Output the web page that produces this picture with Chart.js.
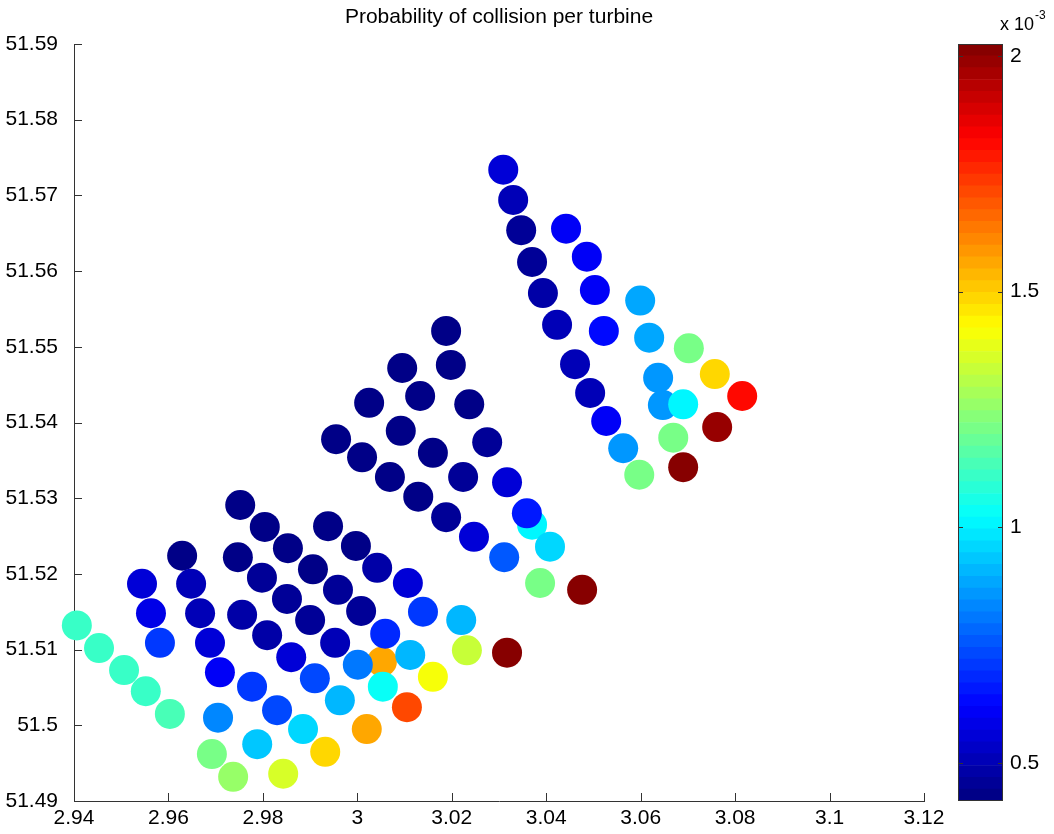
<!DOCTYPE html>
<html><head><meta charset="utf-8">
<script src="https://cdn.jsdelivr.net/npm/chart.js@4.4.0/dist/chart.umd.min.js"></script>
<style>
html,body{margin:0;padding:0;background:#fff;}
#wrap{position:relative;width:1054px;height:834px;overflow:hidden;background:#fff;}
#main{position:absolute;left:0;top:0;}
#cbar{position:absolute;left:940px;top:0;}
</style></head><body>
<div id="wrap"><canvas id="main" width="998" height="834"></canvas><canvas id="cbar" width="114" height="834"></canvas></div>
<script>
const TITLE = 'Probability of collision per turbine';

// turbine longitude (x), latitude (y), probability of collision (x 10^-3)
const lon = [2.9406,2.9453,2.9506,2.9552,2.9603,2.9544,2.9563,2.9582,2.9629,2.9648,
 2.9667,2.9688,2.9709,2.9705,2.9692,2.9737,2.9752,2.9747,2.9756,2.9777,
 2.9788,2.9843,2.9804,2.9798,2.9809,2.9830,2.9853,2.9851,2.9860,2.9885,
 2.9906,2.9900,2.9910,2.9932,2.9938,2.9959,2.9953,2.9963,2.9997,3.0008,
 3.0052,3.0001,3.0020,3.0042,3.0059,3.0054,3.0107,3.0112,3.0105,3.0139,
 3.0160,3.0220,3.0232,3.0317,3.0188,3.0198,3.0095,3.0133,3.0237,3.0025,
 3.0092,3.0275,2.9955,3.0160,3.0010,3.0224,3.0317,3.0069,3.0129,3.0188,
 3.0370,3.0359,3.0247,3.0408,3.0311,3.0387,3.0476,3.0309,3.0330,3.0347,
 3.0370,3.0393,3.0423,3.0461,3.0493,3.0527,3.0563,3.0597,3.0442,3.0486,
 3.0503,3.0522,3.0599,3.0618,3.0637,3.0647,3.0690,3.0669,3.0690,3.0702,
 3.0757,3.0815,3.0762];
const lat = [51.5132,51.5102,51.5073,51.5045,51.5015,51.5187,51.5148,51.5109,51.5224,51.5187,
 51.5148,51.5109,51.5070,51.5010,51.4962,51.4932,51.5291,51.5222,51.5146,51.5051,
 51.4975,51.4936,51.5262,51.5195,51.5119,51.5020,51.5234,51.5167,51.5090,51.4995,
 51.5206,51.5139,51.5062,51.4965,51.5263,51.5179,51.5109,51.5033,51.5237,51.5151,
 51.5084,51.5080,51.4995,51.5208,51.5121,51.5051,51.5188,51.5093,51.5024,51.5150,
 51.5064,51.5139,51.5099,51.5096,51.5521,51.5476,51.5472,51.5435,51.5424,51.5426,
 51.5389,51.5374,51.5378,51.5360,51.5354,51.5328,51.5321,51.5328,51.5302,51.5275,
 51.5265,51.5280,51.5249,51.5236,51.5222,51.5188,51.5179,51.5734,51.5694,51.5654,
 51.5612,51.5571,51.5529,51.5477,51.5439,51.5402,51.5366,51.5331,51.5656,51.5619,
 51.5575,51.5521,51.5561,51.5512,51.5459,51.5423,51.5424,51.5380,51.5341,51.5498,
 51.5464,51.5435,51.5394];
const prob = [1.12,1.12,1.12,1.12,1.13,0.56,0.58,0.72,0.44,0.50,
 0.52,0.55,0.62,0.84,1.21,1.27,0.43,0.44,0.49,0.70,
 0.93,1.37,0.43,0.45,0.48,0.74,0.44,0.45,0.55,0.97,
 0.44,0.46,0.74,1.49,0.43,0.45,0.50,0.90,0.44,0.47,
 1.55,0.80,1.57,0.49,0.68,1.04,0.56,0.92,1.70,0.70,
 1.42,0.90,1.34,2.00,0.43,0.43,0.43,0.43,0.44,0.43,
 0.43,0.47,0.43,0.44,0.43,0.45,0.55,0.43,0.44,0.46,
 1.00,0.65,0.55,0.95,0.76,1.22,2.00,0.55,0.50,0.47,
 0.47,0.48,0.50,0.50,0.52,0.60,0.86,1.20,0.60,0.61,
 0.62,0.64,0.88,0.88,0.86,0.86,1.02,1.20,2.00,1.20,
 1.48,1.82,1.98];

const xTicks = [2.94,2.96,2.98,3.00,3.02,3.04,3.06,3.08,3.10,3.12];
const xTickLabels = ['2.94','2.96','2.98','3','3.02','3.04','3.06','3.08','3.1','3.12'];
const yTicks = [51.49,51.50,51.51,51.52,51.53,51.54,51.55,51.56,51.57,51.58,51.59];
const yTickLabels = ['51.49','51.5','51.51','51.52','51.53','51.54','51.55','51.56','51.57','51.58','51.59'];
const cbTicks = [0.5,1,1.5,2];
const cbTickLabels = ['0.5','1','1.5','2'];
const cbMin = 0.42, cbMax = 2.025;
const cbMultiplier = 'x 10', cbExponent = '-3';

const FONT = "'Liberation Sans', Arial, Helvetica, sans-serif";
const NLEV = 64;

function jetIndexColor(i){
  const t = (i + 0.5) / NLEV;
  const c = v => Math.round(255 * Math.min(1, Math.max(0, v)));
  return 'rgb(' + c(1.5 - Math.abs(4*t - 3)) + ',' + c(1.5 - Math.abs(4*t - 2)) + ',' + c(1.5 - Math.abs(4*t - 1)) + ')';
}
function jet(v){
  let t = (v - cbMin) / (cbMax - cbMin);
  let i = Math.floor(t * NLEV);
  i = Math.max(0, Math.min(NLEV - 1, i));
  return jetIndexColor(i);
}

const inwardTicks = {
  id: 'inwardTicks',
  afterDraw(chart){
    const {ctx, chartArea: a, scales: {x, y}} = chart;
    ctx.save();
    ctx.strokeStyle = '#333';
    ctx.lineWidth = 1;
    ctx.beginPath();
    xTicks.forEach(v => { const p = Math.round(x.getPixelForValue(v)) + 0.5; ctx.moveTo(p, a.bottom); ctx.lineTo(p, a.bottom - 8); });
    yTicks.forEach(v => { const p = Math.round(y.getPixelForValue(v)) + 0.5; ctx.moveTo(a.left, p); ctx.lineTo(a.left + 8, p); });
    ctx.stroke();
    ctx.restore();
  }
};

const points = lon.map((x, i) => ({x: x, y: lat[i]}));
const colors = prob.map(jet);

new Chart(document.getElementById('main'), {
  type: 'scatter',
  data: { datasets: [{ data: points, pointRadius: 15, pointHoverRadius: 15, pointBackgroundColor: colors, pointBorderColor: colors, pointBorderWidth: 0, clip: false }] },
  options: {
    responsive: false, animation: false, devicePixelRatio: 1, events: [],
    layout: { padding: 0 },
    plugins: {
      legend: { display: false }, tooltip: { enabled: false },
      title: { display: true, text: TITLE, color: '#000', font: { family: FONT, size: 21, weight: 'normal', lineHeight: 1.2 }, padding: { top: 5, bottom: 13.8 } }
    },
    scales: {
      x: {
        type: 'linear', min: 2.94, max: 3.12,
        afterBuildTicks: s => { s.ticks = xTicks.map(v => ({value: v})); },
        afterFit: s => { s.height = 33; },
        grid: { drawOnChartArea: false, drawTicks: false },
        border: { display: true, color: '#333', width: 1 },
        ticks: { padding: 5, color: '#000', font: { family: FONT, size: 21 }, maxRotation: 0, autoSkip: false, callback: (v, i) => xTickLabels[i] }
      },
      y: {
        type: 'linear', position: 'left', min: 51.49, max: 51.59,
        afterBuildTicks: s => { s.ticks = yTicks.map(v => ({value: v})); },
        afterFit: s => { s.width = 74; },
        grid: { drawOnChartArea: false, drawTicks: false },
        border: { display: true, color: '#333', width: 1 },
        ticks: { padding: 16, color: '#000', font: { family: FONT, size: 21 }, autoSkip: false, callback: (v, i) => yTickLabels[i] }
      },
      ySpacer: {
        type: 'linear', position: 'right', min: 51.49, max: 51.59,
        afterFit: s => { s.width = 74; },
        grid: { display: false, drawTicks: false },
        border: { display: false },
        ticks: { display: false }
      }
    }
  },
  plugins: [inwardTicks]
});

// colorbar
const cbDatasets = [];
for (let i = 0; i < NLEV; i++) {
  const lo = cbMin + (cbMax - cbMin) * i / NLEV;
  const hi = cbMin + (cbMax - cbMin) * (i + 1) / NLEV;
  const col = jetIndexColor(i);
  cbDatasets.push({ data: [[lo, hi]], backgroundColor: col, borderColor: col, borderWidth: 0 });
}

const cbDecor = {
  id: 'cbDecor',
  afterDraw(chart){
    const {ctx, chartArea: a, scales: {y}} = chart;
    ctx.save();
    ctx.strokeStyle = '#333';
    ctx.lineWidth = 1;
    ctx.strokeRect(Math.round(a.left) + 0.5, Math.round(a.top) + 0.5, Math.round(a.right - a.left) - 1, Math.round(a.bottom - a.top) - 1);
    ctx.beginPath();
    cbTicks.forEach(v => {
      const p = Math.round(y.getPixelForValue(v)) + 0.5;
      ctx.moveTo(a.left, p); ctx.lineTo(a.left + 5, p);
      ctx.moveTo(a.right, p); ctx.lineTo(a.right - 5, p);
    });
    ctx.stroke();
    ctx.fillStyle = '#000';
    ctx.textBaseline = 'alphabetic';
    ctx.textAlign = 'left';
    ctx.font = '18px ' + FONT;
    ctx.fillText(cbMultiplier, 60, 30);
    const w = ctx.measureText(cbMultiplier).width;
    ctx.font = '12px ' + FONT;
    ctx.fillText(cbExponent, 60 + w + 1, 19);
    ctx.restore();
  }
};

new Chart(document.getElementById('cbar'), {
  type: 'bar',
  data: { labels: [''], datasets: cbDatasets },
  options: {
    responsive: false, animation: false, devicePixelRatio: 1, events: [],
    layout: { padding: { left: 18, right: 0, top: 44, bottom: 33 } },
    datasets: { bar: { grouped: false, barPercentage: 1, categoryPercentage: 1 } },
    plugins: { legend: { display: false }, tooltip: { enabled: false } },
    scales: {
      x: { display: false },
      y: {
        position: 'right', min: cbMin, max: cbMax,
        afterBuildTicks: s => { s.ticks = cbTicks.map(v => ({value: v})); },
        afterFit: s => { s.width = 51; },
        grid: { display: false, drawTicks: false },
        border: { display: false },
        ticks: { padding: 7, color: '#000', font: { family: FONT, size: 21 }, autoSkip: false, callback: (v, i) => cbTickLabels[i] }
      }
    }
  },
  plugins: [cbDecor]
});
</script>
</body></html>
